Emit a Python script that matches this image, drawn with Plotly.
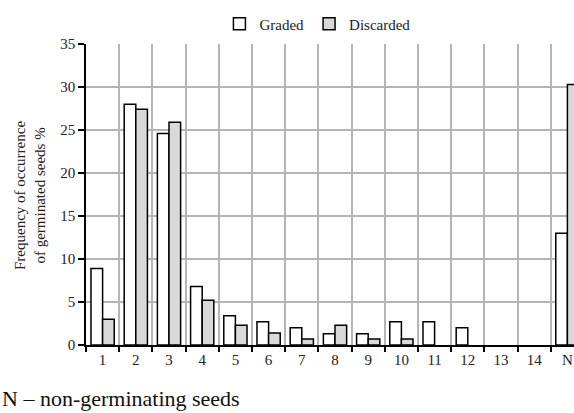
import plotly.graph_objects as go

categories = ["1", "2", "3", "4", "5", "6", "7", "8", "9", "10", "11", "12", "13", "14", "N"]
graded = [8.9, 28.0, 24.6, 6.8, 3.4, 2.7, 2.0, 1.3, 1.3, 2.7, 2.7, 2.0, 0, 0, 13.0]
discarded = [3.0, 27.4, 25.9, 5.2, 2.3, 1.4, 0.7, 2.3, 0.7, 0.7, 0, 0, 0, 0, 30.3]
y_ticks = [0, 5, 10, 15, 20, 25, 30, 35]

W, H = 574, 413
ML, MR, MT, MB = 86, 0, 44, 68
pw = W - ML - MR
ph = H - MT - MB

font = "Liberation Serif, Times New Roman, serif"
txt = "#222"


def outline(vals):
    return [1.5 if v > 0 else 0 for v in vals]


fig = go.Figure()
fig.add_trace(go.Bar(x=categories, y=graded, name="Graded",
                     marker=dict(color="white", line=dict(color="black", width=outline(graded)))))
fig.add_trace(go.Bar(x=categories, y=discarded, name="Discarded",
                     marker=dict(color="#d9d9d9", line=dict(color="black", width=outline(discarded)))))

fig.update_layout(
    width=W, height=H,
    margin=dict(l=ML, r=MR, t=MT, b=MB, pad=0, autoexpand=False),
    paper_bgcolor="white", plot_bgcolor="white",
    barmode="group", bargap=0.3, bargroupgap=0,
    font=dict(family=font, size=15, color=txt),
    showlegend=True,
    legend=dict(orientation="h", xref="container", yref="container",
                x=0.553, xanchor="center", y=1 - 24 / H, yanchor="middle",
                font=dict(family=font, size=15, color=txt),
                itemwidth=30, tracegroupgap=0, bgcolor="rgba(0,0,0,0)"),
    xaxis=dict(type="category", range=[-0.5, -0.5 + pw / 33.2], tickson="boundaries",
               automargin=False,
               showgrid=True, gridcolor="#b5b5b5", gridwidth=1.5,
               showline=True, linecolor="black", linewidth=1.5,
               ticks="outside", ticklen=5, tickcolor="black", tickwidth=1.5,
               tickfont=dict(family=font, size=15, color=txt), zeroline=False),
    yaxis=dict(range=[0, 35], tickvals=y_ticks, automargin=False,
               showgrid=True, gridcolor="#b5b5b5", gridwidth=1.5,
               showline=True, linecolor="black", linewidth=1.5,
               ticks="outside", ticklen=6, tickcolor="black", tickwidth=1.5,
               tickfont=dict(family=font, size=15, color=txt), zeroline=False),
)

fig.add_annotation(text="Frequency of occurrence<br>of germinated seeds %",
                   xref="paper", yref="paper", x=(30 - ML) / pw, y=(H - MB - 196) / ph,
                   textangle=-90, showarrow=False, xanchor="center", yanchor="middle",
                   font=dict(family=font, size=15, color=txt))
fig.add_annotation(text="N – non-germinating seeds",
                   xref="paper", yref="paper", x=(0 - ML) / pw, y=(H - MB - 398) / ph,
                   showarrow=False, xanchor="left", yanchor="middle",
                   font=dict(family=font, size=22, color="#111"))

fig.write_html("out.html", config={"displayModeBar": False},
               post_script="document.body.style.margin='0';document.body.style.overflow='hidden';")
